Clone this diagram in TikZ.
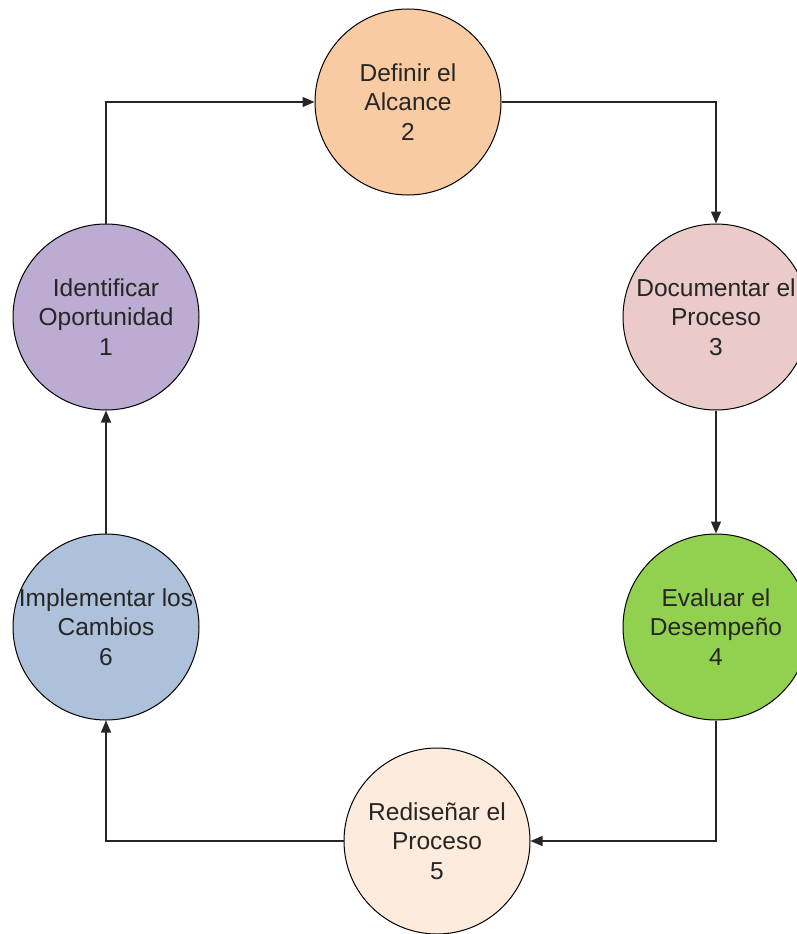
\documentclass[tikz,border=0pt]{standalone}
\usepackage{fontspec}
\setmainfont{Liberation Sans}
\usetikzlibrary{arrows.meta}
\definecolor{cA}{HTML}{BCACD1}
\definecolor{cB}{HTML}{F9CBA2}
\definecolor{cC}{HTML}{EBCACA}
\definecolor{cD}{HTML}{92D050}
\definecolor{cE}{HTML}{FDEBDD}
\definecolor{cF}{HTML}{ADC1DA}
\definecolor{txt}{HTML}{262626}
\begin{document}
\begin{tikzpicture}[x=1pt,y=-1pt,
  stage/.style={circle,draw=black,line width=1pt,minimum size=186pt,inner sep=0pt,
    label={[align=center,font=\fontsize{24.5}{29.5}\selectfont,text=txt]center:#1}},
  flow/.style={draw=black!85,line width=1.3pt,-{Triangle[length=12pt,width=10pt]}}]
\useasboundingbox (0,0) rectangle (796,934);
\node[stage={Identificar\\Oportunidad\\1},fill=cA] (c1) at (106,317) {};
\node[stage={Definir el\\Alcance\\2},fill=cB] (c2) at (408,102) {};
\node[stage={Documentar el\\Proceso\\3},fill=cC] (c3) at (716,317) {};
\node[stage={Evaluar el\\Desempeño\\4},fill=cD] (c4) at (716,627) {};
\node[stage={Rediseñar el\\Proceso\\5},fill=cE] (c5) at (437,841) {};
\node[stage={Implementar los\\Cambios\\6},fill=cF] (c6) at (106,627) {};
\draw[flow] (c1.north) |- (c2.west);
\draw[flow] (c2.east) -| (c3.north);
\draw[flow] (c3.south) -- (c4.north);
\draw[flow] (c4.south) |- (c5.east);
\draw[flow] (c5.west) -| (c6.south);
\draw[flow] (c6.north) -- (c1.south);
\end{tikzpicture}
\end{document}
